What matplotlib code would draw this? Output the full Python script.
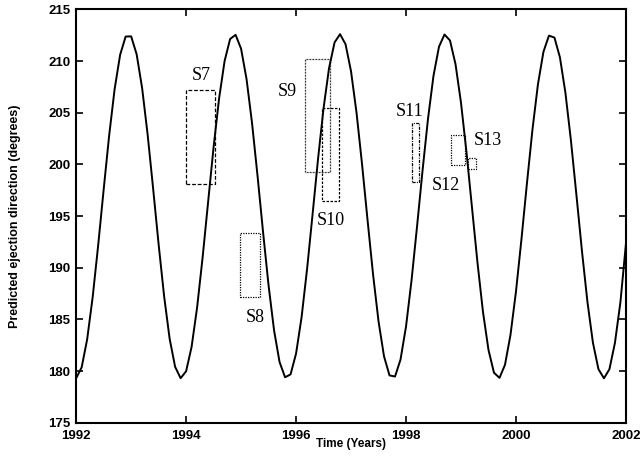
import numpy as np
import matplotlib
matplotlib.use('Agg')
import matplotlib.pyplot as plt
from matplotlib.patches import Rectangle

# Predicted ejection direction, sampled every 0.1 yr from 1992.0 to 2002.0
t0 = 1992.0
dt = 0.1
direction = [179.31, 180.36, 183.07, 187.14, 192.15, 197.55, 202.79, 207.30, 210.61, 212.37,
             212.39, 210.66, 207.38, 202.89, 197.66, 192.26, 187.24, 183.14, 180.41, 179.31,
             179.98, 182.35, 186.15, 190.99, 196.35, 201.68, 206.39, 210.00, 212.13, 212.54,
             211.19, 208.23, 203.96, 198.85, 193.43, 188.28, 183.93, 180.87, 179.40, 179.68,
             181.69, 185.20, 189.86, 195.15, 200.54, 205.43, 209.32, 211.80, 212.60, 211.63,
             209.00, 204.99, 200.03, 194.63, 189.37, 184.81, 181.42, 179.58, 179.47, 181.11,
             184.31, 188.76, 193.96, 199.37, 204.42, 208.58, 211.39, 212.57, 211.99, 209.71,
             205.97, 201.18, 195.83, 190.49, 185.72, 182.05, 179.84, 179.34, 180.60, 183.49,
             187.69, 192.77, 198.19, 203.37, 207.76, 210.90, 212.46, 212.27, 210.35, 206.91,
             202.30, 197.02, 191.63, 186.69, 182.74, 180.19, 179.30, 180.18, 182.72, 186.67,
             192.30]
years = t0 + dt*np.arange(len(direction))

# observed boxes (time range x direction range)
box_names = ["S7", "S8", "S9", "S10", "S11", "S12", "S13"]
box_t0 = [1994.00, 1994.98, 1996.16, 1996.47, 1998.10, 1998.81, 1999.13]
box_t1 = [1994.53, 1995.35, 1996.62, 1996.79, 1998.24, 1999.07, 1999.28]
box_d0 = [198.1, 187.2, 199.3, 196.5, 198.3, 199.9, 199.55]
box_d1 = [207.2, 193.4, 210.2, 205.5, 204.0, 202.8, 200.6]
label_t = [1994.27, 1995.25, 1995.84, 1996.64, 1998.06, 1998.73, 1999.48]
label_d = [208.6, 185.2, 207.1, 194.55, 205.1, 198.0, 202.3]
box_styles = [(0, (3, 1.5)), (0, (1, 1)), (0, (0.6, 0.6)), (0, (2, 1.2)),
              (0, (2.5, 1, 0.8, 1)), (0, (1, 1)), (0, (1, 1))]

plt.rcParams['font.family'] = ['Liberation Sans', 'DejaVu Sans']

fig = plt.figure(figsize=(6.4, 4.58), dpi=100)
ax = fig.add_axes([0.119, 0.077, 0.859, 0.9025])

ax.plot(years, direction, color='black', lw=1.4)

for i in range(len(box_names)):
    r = Rectangle((box_t0[i], box_d0[i]), box_t1[i]-box_t0[i], box_d1[i]-box_d0[i],
                  fill=False, ec='black', lw=0.9, ls=box_styles[i])
    ax.add_patch(r)
    ax.text(label_t[i], label_d[i], box_names[i], family='Liberation Serif',
            fontsize=13, ha='center', va='center')

ax.set_xlim(1992, 2002)
ax.set_ylim(175, 215)
ax.set_xticks([1992, 1994, 1996, 1998, 2000, 2002])
ax.set_yticks(np.arange(175, 216, 5))
ax.tick_params(direction='in', top=True, right=True, length=5, width=1.2,
               labelsize=9.5)
ax.tick_params(axis='x', pad=5)
ax.tick_params(axis='y', pad=4)
for lab in ax.get_xticklabels() + ax.get_yticklabels():
    lab.set_fontweight('bold')
for s in ax.spines.values():
    s.set_linewidth(1.5)

ax.set_xlabel("Time (Years)", fontsize=8.5, fontweight='bold', labelpad=-3)
ax.set_ylabel("Predicted ejection direction (degrees)", fontsize=9, fontweight='bold', labelpad=20)

fig.savefig("out.png", dpi=100)
